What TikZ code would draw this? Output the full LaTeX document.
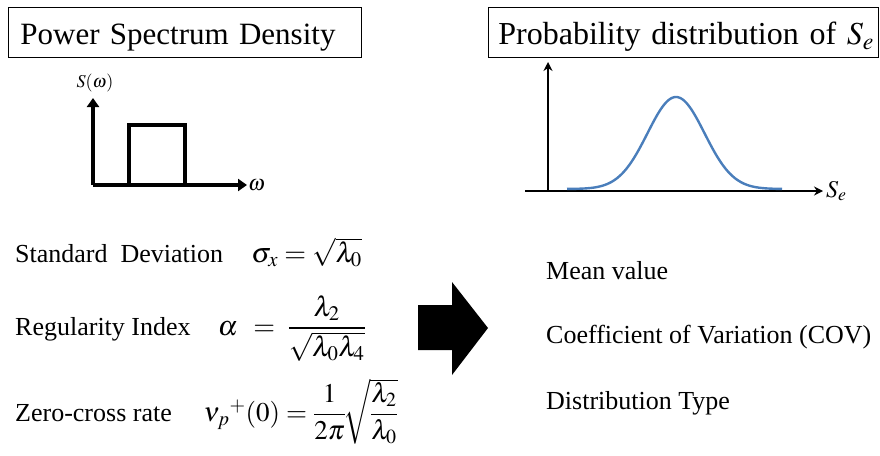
\documentclass[tikz,border=0pt]{standalone}
\usepackage{mathptmx}
\usepackage{fontspec}
\setmainfont{Liberation Serif}
\usepackage{amsmath}
\usetikzlibrary{arrows.meta,positioning}
\definecolor{curveblue}{RGB}{74,126,187}

\begin{document}
\begin{tikzpicture}[x=1pt,y=-1pt, every node/.style={font=\fontsize{26}{30}\selectfont, inner sep=0pt},
  titlebox/.style={draw,line width=0.8pt,align=left,
    text height=26pt,text depth=2pt,minimum height=50pt,anchor=west},
  txt/.style={anchor=base west},
  eqn/.style={anchor=base east,font=\fontsize{28}{32}\selectfont}]
\useasboundingbox (0,0) rectangle (880,455);
% headings
\node[titlebox,font=\fontsize{31}{36}\selectfont,text width=329pt,inner xsep=12pt] (psd) at (8,32) {\mbox{Power Spectrum Density}};
\node[titlebox,font=\fontsize{32}{36}\selectfont,text width=370pt,inner xsep=10pt] (pdf) at (488,32.5) {\mbox{Probability distribution of $S_e$}};
% spectrum
\coordinate (o1) at (93,185);
\coordinate (y1) at (93,98);
\coordinate (x1) at (247,185);
\draw[line width=4pt,-{Triangle[length=9pt,width=12pt]}] (o1)--(y1);
\draw[line width=4pt,-{Triangle[length=9pt,width=12pt]}] (o1)--(x1);
\draw[line width=4pt] (129,185)--(129,125)--(185,125)--(185,185);
\node[font=\fontsize{18}{20}\selectfont] (sw) at (95,83) {$S(\omega)$};
\node[font=\fontsize{22}{24}\selectfont,right=1pt of x1] (w) {$\omega$};
% distribution
\coordinate (o2) at (548,191);
\coordinate (y2) at (548,62);
\coordinate (x2a) at (525,191);
\coordinate (x2) at (823,191);
\draw[line width=1.8pt,-{Stealth[length=9pt,width=9pt]}] (o2)--(y2);
\draw[line width=1.8pt,-{Stealth[length=9pt,width=9pt]}] (x2a)--(x2);
\draw[curveblue,line width=2.4pt,domain=567:782,samples=120,smooth] plot (\x,{189-92*exp(-((\x-676)^2)/(2*28.5^2))});
\node[font=\fontsize{24}{26}\selectfont,right=3pt of x2] (se) {$S_e$};
% relations
\node[txt] (sd) at (15,262) {Standard\ \ Deviation};
\node[eqn] (sdf) at (362,262) {$\sigma_x=\sqrt{\lambda_0}$};
\node[txt] (ri) at (15,335) {Regularity Index};
\node[eqn] (rif) at (366,335) {$\alpha\;\,=\;\dfrac{\lambda_2}{\sqrt{\lambda_0\lambda_4}}$};
\node[txt] (zc) at (15,421) {Zero-cross rate};
\node[eqn,font=\fontsize{27}{30}\selectfont] (zcf) at (398,421) {${\nu_p}^{+}(0)=\dfrac{1}{2\pi}\!\sqrt{\dfrac{\lambda_2}{\lambda_0}}$};
% big arrow
\fill (418,305)--(452,305)--(452,282)--(488,328)--(452,375)--(452,350)--(418,350)--cycle;
% properties
\node[txt] (mv) at (546,279) {Mean value};
\node[txt] (cov) at (546,343) {Coefficient of Variation (COV)};
\node[txt] (dt) at (546,409) {Distribution Type};
\end{tikzpicture}
\end{document}
